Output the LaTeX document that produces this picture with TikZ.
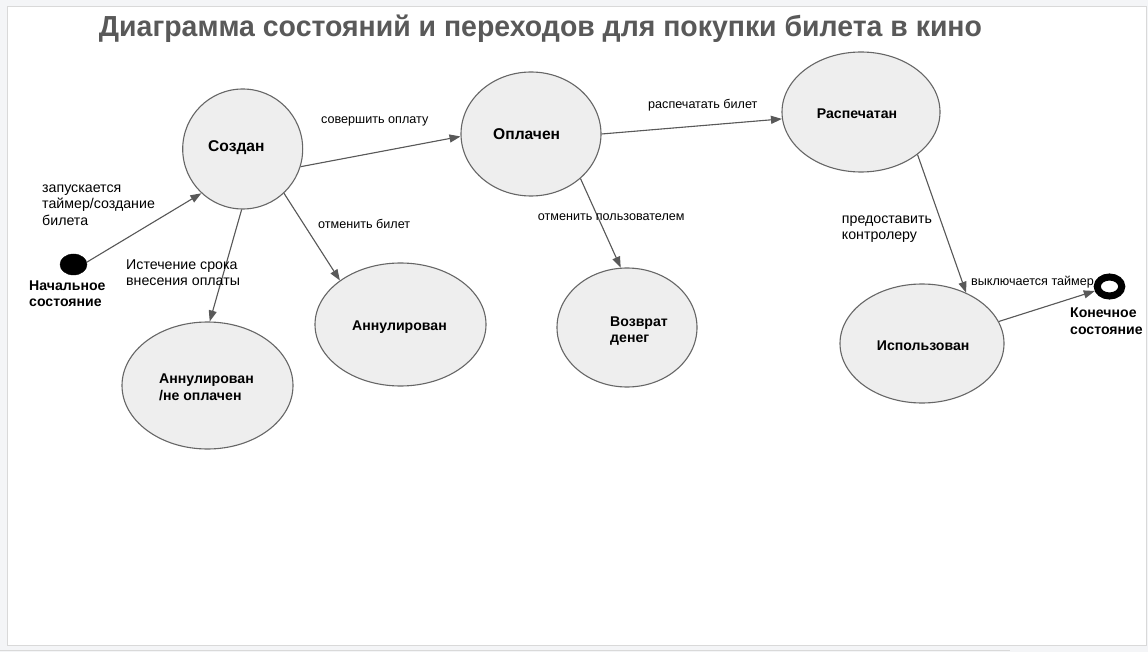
\documentclass[tikz,border=0pt]{standalone}
\usepackage{fontspec}
\setmainfont{Liberation Sans}
\usetikzlibrary{shapes.geometric,arrows.meta}
\definecolor{edgegray}{HTML}{595959}
\definecolor{statefill}{HTML}{EEEEEE}
\definecolor{stateline}{HTML}{666666}
\definecolor{titlegray}{HTML}{595959}
\definecolor{pagegray}{HTML}{F4F5F7}
\definecolor{framegray}{HTML}{D9D9D9}
\tikzset{
  state/.style={ellipse, draw=stateline, fill=statefill, line width=1.1pt, inner sep=0pt},
  slabel/.style={font=\bfseries\fontsize{14.1}{16.6}\selectfont, align=left, inner sep=0pt, anchor=base west},
  bigslabel/.style={font=\bfseries\fontsize{15.6}{18}\selectfont, inner sep=0pt, anchor=base west},
  elabel/.style={font=\fontsize{12.6}{15}\selectfont, anchor=base west, inner sep=0pt},
  elabelb/.style={font=\fontsize{14.2}{16.8}\selectfont, anchor=base west, align=left, inner sep=0pt},
  conn/.style={draw=edgegray, line width=1.1pt, -{Triangle[length=11pt,width=8pt]}, fill=edgegray},
}
\begin{document}
\begin{tikzpicture}[x=1pt,y=-1pt]
\useasboundingbox (0,0) rectangle (1148,652);
\fill[pagegray] (0,0) rectangle (1148,652);
\filldraw[fill=white, draw=framegray, line width=1pt] (7,7) rectangle (1146,645);
\draw[framegray, line width=1.5pt] (0,650.5) -- (1010,650.5);

% title
\node[anchor=base, inner sep=0pt, text=titlegray, font=\bfseries\fontsize{29}{34}\selectfont] (title) at (540.5,37)
  {\resizebox{883pt}{\height}{Диаграмма состояний и переходов для покупки билета в кино}};

% states
\node[ellipse, draw=black, fill=black, minimum width=27pt, minimum height=21pt, inner sep=0pt] (init) at (73.5,264.5) {};
\node[ellipse, draw=black, fill=white, line width=7pt, minimum width=24.5pt, minimum height=19pt, inner sep=0pt] (final) at (1109.5,286.5) {};

\node[state, minimum width=120pt, minimum height=120pt] (created) at (242.7,149) {};
\node[state, minimum width=171pt, minimum height=127pt] (annul1) at (207.5,385.5) {};
\node[state, minimum width=171pt, minimum height=123pt] (annul2) at (400.5,324.5) {};
\node[state, minimum width=140pt, minimum height=124pt] (paid) at (531,134) {};
\node[state, minimum width=158pt, minimum height=120pt] (printed) at (861,112) {};
\node[state, minimum width=140pt, minimum height=119pt] (refund) at (627,327.5) {};
\node[state, minimum width=164pt, minimum height=119pt] (used) at (922,343.5) {};

% state texts (anchor = baseline of the last line)
\node[bigslabel] (tcreated) at (208,151.7) {Создан};
\node[bigslabel] (tpaid) at (493,139.3) {Оплачен};
\node[slabel] (tprinted) at (816.7,118.3) {Распечатан};
\node[slabel] (tannul2) at (352,330) {Аннулирован};
\node[slabel] (tannul1) at (159,400) {Аннулирован\\/не оплачен};
\node[slabel] (trefund) at (610,342.7) {Возврат\\денег};
\node[slabel] (tused) at (876.7,350) {Использован};
\node[slabel] (tinit) at (29,306.7) {Начальное\\состояние};
\node[slabel] (tfinal) at (1070,334.3) {Конечное\\состояние};

% connectors
\draw[conn] (init.10) -- (created.227);
\draw[conn] (created.-17) -- (paid.182);
\draw[conn] (created.-91) -- (annul1.88);
\draw[conn] (created.-47) -- (annul2.144);
\draw[conn] (paid.0) -- (printed.185);
\draw[conn] (paid.-42) -- (refund.96);
\draw[conn] (printed.-37.5) -- (used.49.6);
\draw[conn] (used.16) -- (final.197);

% transition labels
\node[elabelb] (l1) at (42,225.7) {запускается\\таймер/создание\\билета};
\node[elabelb] (l2) at (126,286) {Истечение срока\\внесения оплаты};
\node[elabel] (l3) at (321,124) {совершить оплату};
\node[elabel] (l4) at (318,229) {отменить билет};
\node[elabel] (l5) at (648,108.3) {распечатать билет};
\node[elabel] (l6) at (537.7,221) {отменить пользователем};
\node[elabelb] (l7) at (841.7,240) {предоставить\\контролеру};
\node[elabel] (l8) at (971,286) {выключается таймер};
\end{tikzpicture}
\end{document}
